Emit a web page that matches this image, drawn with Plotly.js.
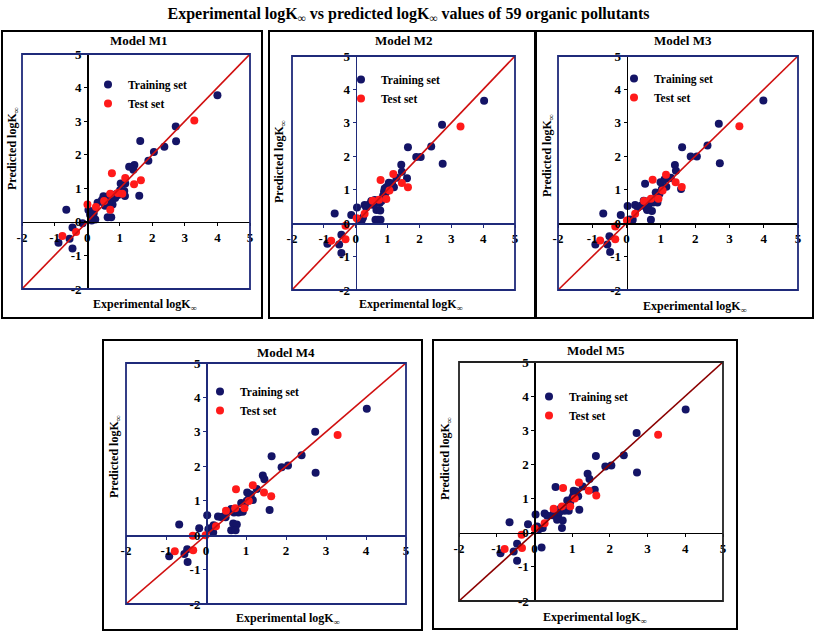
<!DOCTYPE html>
<html>
<head>
<meta charset="utf-8">
<script src="https://cdn.plot.ly/plotly-3.0.1.min.js"></script>
<style>html,body{margin:0;padding:0;background:#fff}#chart{width:817px;height:635px}</style>
</head>
<body>
<div id="chart"></div>
<script>
// ---------- data ----------
const modelNames = ["Model M1", "Model M2", "Model M3", "Model M4", "Model M5"];
const seriesNames = ["Training set", "Test set"];
const tickVals = [-2, -1, 0, 1, 2, 3, 4, 5];
const tickText = ["-2", "-1", "0", "1", "2", "3", "4", "5"];
const diagX = [-2, 5];

const m1TrainX = [4.00,2.72,2.73,2.37,2.05,1.88,1.63,1.60,1.45,1.42,1.29,1.17,1.03,1.14,1.16,1.01,0.91,0.86,0.76,0.65,0.55,0.50,0.45,0.60,0.78,0.32,0.19,0.04,0.09,0.25,0.14,0.63,0.74,-0.14,-0.64,-0.45,-0.54,-0.88,-0.45,0.55,0.68,0.85,0.95,0.20,0.59];
const m1TrainY = [3.77,2.84,2.40,2.24,2.08,1.82,2.41,0.78,1.69,1.55,1.64,1.14,1.14,0.92,0.77,0.94,0.84,0.71,0.81,0.76,0.69,0.76,0.64,0.59,0.52,0.57,0.31,0.35,0.21,0.07,0.04,0.14,0.14,-0.04,0.36,-0.17,-0.50,-0.62,-0.79,0.48,0.62,0.80,0.80,0.25,0.63];
const m1TestX = [3.29,1.65,1.44,1.17,1.08,0.94,0.76,0.71,0.71,0.52,0.27,0.01,-0.34,-0.76];
const m1TestY = [3.02,1.24,1.12,1.31,0.84,0.86,1.45,0.84,0.36,0.62,0.44,0.52,-0.30,-0.42];

const m2TrainX = [4.03,2.71,2.73,2.37,2.04,1.90,1.64,1.61,1.43,1.45,1.28,1.04,1.14,1.20,0.91,0.94,0.97,0.81,0.75,0.60,0.49,0.44,0.65,0.77,0.62,0.70,0.78,0.28,0.33,0.04,-0.14,0.13,0.23,-0.66,-0.45,-0.52,-0.89,-0.45,0.89,0.58,0.68,0.86,0.19,0.53,1.10];
const m2TrainY = [3.66,2.94,1.78,2.29,1.98,1.98,2.27,1.34,1.75,1.54,1.36,1.21,1.19,1.07,1.04,0.91,1.08,0.66,0.60,0.69,0.66,0.57,0.39,0.38,0.10,0.10,0.10,0.54,0.47,0.47,0.24,0.11,0.17,0.29,-0.35,-0.64,-0.62,-0.89,0.95,0.60,0.62,0.82,0.09,0.55,1.15];
const m2TestX = [3.29,1.64,1.45,1.18,1.06,0.96,0.78,0.73,0.53,0.28,0.03,-0.32,-0.32,-0.77];
const m2TestY = [2.89,1.07,1.20,1.47,0.98,0.72,1.29,0.70,0.67,0.28,0.15,-0.08,-0.48,-0.53];

const m3TrainX = [3.99,2.69,2.72,2.36,2.05,1.87,1.62,1.59,1.41,1.44,1.24,0.99,1.11,1.16,0.85,0.92,0.80,0.54,0.62,0.68,0.50,0.60,0.74,0.71,0.25,0.33,0.03,0.09,0.18,-0.17,-0.68,-0.50,-0.56,-0.91,-0.48,0.90,0.96,1.03,0.42,0.58,0.77,0.64,1.29,0.15,0.86];
const m3TrainY = [3.67,2.97,1.79,2.32,1.99,1.99,2.27,1.02,1.74,1.57,1.34,1.22,1.31,1.09,0.92,0.80,0.64,1.18,0.65,0.67,0.67,0.39,0.36,0.10,0.54,0.47,0.51,0.11,0.10,0.24,0.29,-0.39,-0.64,-0.64,-0.86,0.62,0.88,1.02,0.52,0.45,0.62,0.55,1.36,0.07,0.70];
const m3TestX = [3.29,1.61,1.43,1.15,1.05,0.93,0.76,0.71,0.51,0.25,0.01,-0.33,-0.33,-0.77];
const m3TestY = [2.90,1.08,1.22,1.45,0.98,0.73,1.30,0.73,0.66,0.28,0.08,-0.10,-0.48,-0.52];

const m4TrainX = [4.02,2.73,2.74,2.39,2.05,1.89,1.64,1.59,1.42,1.46,1.27,1.03,1.12,1.17,1.02,0.88,0.92,0.81,0.70,0.63,0.68,0.77,0.63,0.74,0.49,0.30,0.37,0.03,0.19,0.18,0.06,-0.17,-0.67,-0.47,-0.54,-0.92,-0.46,0.97,0.76,0.58,0.85,0.10,1.08,0.45,0.66];
const m4TrainY = [3.67,3.00,1.81,2.32,2.02,1.97,2.29,0.73,1.73,1.62,1.34,1.24,1.18,1.02,1.00,0.93,0.68,0.66,0.66,0.76,0.34,0.31,0.14,0.14,0.52,0.54,0.53,0.58,0.29,0.08,0.17,0.20,0.31,-0.41,-0.55,-0.61,-0.78,0.90,0.70,0.70,0.68,0.20,1.10,0.55,0.72];
const m4TestX = [3.29,1.63,1.45,1.17,1.07,0.96,0.75,0.73,0.50,0.25,-0.01,-0.33,-0.32,-0.78];
const m4TestY = [2.91,1.13,1.24,1.45,0.99,0.78,1.33,0.78,0.71,0.26,0.00,-0.02,-0.44,-0.47];

const m5TrainX = [4.01,2.71,2.72,2.37,2.04,1.88,1.63,1.60,1.41,1.46,1.28,1.04,1.11,1.16,1.03,1.19,0.87,0.91,0.80,0.56,0.63,0.48,0.75,0.73,0.62,0.27,0.34,0.03,0.22,0.19,0.07,-0.17,-0.66,-0.46,-0.55,-0.90,-0.46,0.60,0.70,0.95,0.52,0.85,0.12,0.68,1.00];
const m5TrainY = [3.61,2.92,1.76,2.27,1.97,1.94,2.25,1.26,1.73,1.57,1.35,1.23,1.21,1.07,1.08,0.67,0.94,0.64,0.64,1.34,0.52,0.51,0.36,0.14,0.64,0.56,0.50,0.53,0.14,-0.43,0.18,0.25,0.31,-0.32,-0.55,-0.60,-0.82,0.38,0.72,0.90,0.58,0.70,0.10,0.62,1.02];
const m5TestX = [3.28,1.64,1.44,1.18,1.07,0.95,0.76,0.73,0.51,0.27,0.01,-0.34,-0.33,-0.79];
const m5TestY = [2.87,1.09,1.23,1.47,1.00,0.77,1.31,0.77,0.70,0.28,0.12,-0.06,-0.45,-0.48];

const trainX = [m1TrainX, m2TrainX, m3TrainX, m4TrainX, m5TrainX];
const trainY = [m1TrainY, m2TrainY, m3TrainY, m4TrainY, m5TrainY];
const testX = [m1TestX, m2TestX, m3TestX, m4TestX, m5TestX];
const testY = [m1TestY, m2TestY, m3TestY, m4TestY, m5TestY];

// ---------- layout geometry (pixels of the 817x635 page) ----------
const W = 817, H = 635;
const fx = p => p / W;
const fy = p => 1 - p / H;
const panels = [
  {plot:[22,250,54,289],  frame:[2,262,31,318],   title:[138,40],  xt:[145,305], yt:[13,149],  leg:[115,79],  axisCol:'#000000', borderCol:'#1f2a7a', lineCol:'#d01010'},
  {plot:[292,515,56,290], frame:[269,535,31,318], title:[403,40],  xt:[411,305], yt:[280,162], leg:[368,74],  axisCol:'#1f2a7a', borderCol:'#1f2a7a', lineCol:'#d01010'},
  {plot:[558,798,56,290], frame:[536,813,31,318], title:[683,40],  xt:[695,307], yt:[548,156], leg:[641,73],  axisCol:'#000000', borderCol:'#1f2a7a', lineCol:'#d01010'},
  {plot:[126,406,363,604],frame:[103,422,340,630],title:[286,352], xt:[288,619], yt:[115,457], leg:[227,386], axisCol:'#1f2a7a', borderCol:'#1f2a7a', lineCol:'#d01010'},
  {plot:[459,723,362,601],frame:[433,737,340,629],title:[596,350], xt:[595,618], yt:[446,459], leg:[556,391], axisCol:'#000000', borderCol:'#222222', lineCol:'#8b0000'}
];

const serif = "Liberation Serif";
const navy = '#141466';
const red = '#ff1a1a';

const data = [];
const layout = {
  width: W, height: H,
  margin: {l:0, r:0, t:0, b:0},
  font: {family: serif, size: 12, weight: 'bold', color: '#000000'},
  paper_bgcolor: '#ffffff', plot_bgcolor: 'rgba(0,0,0,0)',
  showlegend: true,
  title: {text: 'Experimental logK<sub>∞</sub> vs predicted logK<sub>∞</sub> values of 59 organic pollutants',
          x: 0.5, xanchor: 'center', y: fy(13), yanchor: 'middle',
          font: {family: serif, size: 16, weight: 'bold', color: '#000'}},
  shapes: [], annotations: []
};

panels.forEach((p, i) => {
  const n = i + 1;
  const xa = 'xaxis' + (n === 1 ? '' : n);
  const ya = 'yaxis' + (n === 1 ? '' : n);
  const xr = 'x' + (n === 1 ? '' : n);
  const yr = 'y' + (n === 1 ? '' : n);
  const lg = 'legend' + (n === 1 ? '' : n);
  const [x0, x1, y0, y1] = p.plot;
  const xd = [fx(x0), fx(x1)];
  const yd = [fy(y1), fy(y0)];
  const xZero = xd[0] + (xd[1] - xd[0]) * 2 / 7;
  const yZero = yd[0] + (yd[1] - yd[0]) * 2 / 7;
  const tickfont = {family: serif, size: 13, weight: 700, color: '#000000'};
  layout[xa] = {domain: xd, range: [-2, 5], anchor: 'free', position: yZero,
    tickmode: 'array', tickvals: tickVals, ticktext: tickText, ticks: 'outside', ticklen: 3, tickcolor: p.axisCol,
    showline: true, linecolor: p.axisCol, linewidth: 1.5, showgrid: false, zeroline: false,
    tickfont: tickfont, fixedrange: true};
  layout[ya] = {domain: yd, range: [-2, 5], anchor: 'free', position: xZero,
    tickmode: 'array', tickvals: tickVals, ticktext: tickText, ticks: 'outside', ticklen: 3, tickcolor: p.axisCol,
    showline: true, linecolor: p.axisCol, linewidth: 1.5, showgrid: false, zeroline: false,
    tickfont: tickfont, fixedrange: true};
  layout[lg] = {x: fx(p.leg[0] - 27), y: fy(p.leg[1] - 9), xanchor: 'left', yanchor: 'top',
    bgcolor: 'rgba(0,0,0,0)', font: {family: serif, size: 11.5, weight: 'bold', color: '#000'},
    tracegroupgap: 0, itemwidth: 30};

  data.push({type: 'scatter', mode: 'markers', name: seriesNames[0], x: trainX[i], y: trainY[i],
    xaxis: xr, yaxis: yr, legend: lg, marker: {color: navy, size: 8}, cliponaxis: false});
  data.push({type: 'scatter', mode: 'markers', name: seriesNames[1], x: testX[i], y: testY[i],
    xaxis: xr, yaxis: yr, legend: lg, marker: {color: red, size: 8}, cliponaxis: false});
  data.push({type: 'scatter', mode: 'lines', x: diagX, y: diagX, xaxis: xr, yaxis: yr,
    showlegend: false, hoverinfo: 'skip', line: {color: p.lineCol, width: 1.6}});

  // plot-area border
  layout.shapes.push({type: 'rect', xref: xr + ' domain', yref: yr + ' domain', x0: 0, x1: 1, y0: 0, y1: 1,
    line: {color: p.borderCol, width: 1.8}});
  // outer panel frame
  const [fx0, fx1, fy0, fy1] = p.frame;
  layout.shapes.push({type: 'rect', xref: 'paper', yref: 'paper', x0: fx(fx0), x1: fx(fx1), y0: fy(fy1), y1: fy(fy0),
    line: {color: '#000', width: 2}});

  layout.annotations.push({text: modelNames[i], xref: 'paper', yref: 'paper', x: fx(p.title[0]), y: fy(p.title[1]),
    xanchor: 'center', yanchor: 'middle', showarrow: false, font: {family: serif, size: 13, weight: 'bold', color: '#000'}});
  layout.annotations.push({text: 'Experimental logK<sub>∞</sub>', xref: 'paper', yref: 'paper', x: fx(p.xt[0]), y: fy(p.xt[1]),
    xanchor: 'center', yanchor: 'middle', showarrow: false, font: {family: serif, size: 12, weight: 'bold', color: '#000'}});
  layout.annotations.push({text: 'Predicted logK<sub>∞</sub>', xref: 'paper', yref: 'paper', x: fx(p.yt[0]), y: fy(p.yt[1]),
    xanchor: 'center', yanchor: 'middle', textangle: -90, showarrow: false, font: {family: serif, size: 12, weight: 'bold', color: '#000'}});
});

Plotly.newPlot('chart', data, layout, {staticPlot: true, displayModeBar: false});
</script>
</body>
</html>
